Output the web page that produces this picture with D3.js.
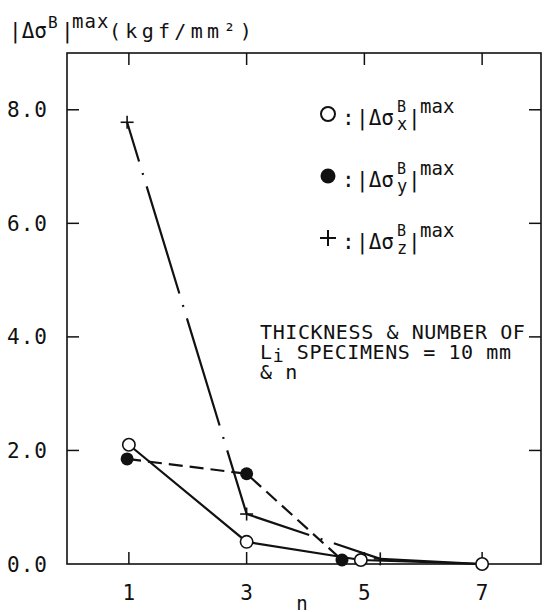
<!DOCTYPE html>
<html>
<head>
<meta charset="utf-8">
<script src="https://cdn.jsdelivr.net/npm/d3@7"></script>
<style>
  html, body { margin: 0; padding: 0; background: #fff; }
  svg { display: block; }
  text { font-family: "DejaVu Sans Mono", "Liberation Mono", monospace; fill: #111; }
</style>
</head>
<body>
<div id="chart"></div>
<script>
// ---- data ----
const xTickValues = [1, 3, 5, 7];
const xTickLabels = ["1", "3", "5", "7"];
const yTickValues = [0, 2, 4, 6, 8];
const yTickLabels = ["0.0", "2.0", "4.0", "6.0", "8.0"];

// open circles : |Δσx|max  (solid line)
const nX = [1, 3, 4.94, 7];
const sigmaX = [2.10, 0.39, 0.07, 0.0];
// filled circles : |Δσy|max (dashed line)
const nY = [0.97, 3, 4.62];
const sigmaY = [1.85, 1.59, 0.07];
// plus : |Δσz|max (dash-dot line)
const nZ = [0.97, 3, 5.27, 7];
const sigmaZ = [7.78, 0.88, 0.09, 0.0];

const legendSubs = ["x", "y", "z"];
const noteLines = ["THICKNESS & NUMBER OF", "L", "& n"];

// ---- layout ----
const W = 544, H = 612;
const frame = { left: 67, top: 53, right: 541, bottom: 564 };

const svg = d3.select("#chart").append("svg").attr("width", W).attr("height", H);

const x = d3.scaleLinear().domain([0, 8]).range([70, 541]);
const y = d3.scaleLinear().domain([0, 9]).range([564, 53]);

const ink = "#111";

// frame
svg.append("rect")
  .attr("x", frame.left).attr("y", frame.top)
  .attr("width", frame.right - frame.left).attr("height", frame.bottom - frame.top)
  .attr("fill", "none").attr("stroke", ink).attr("stroke-width", 1.6);

const tickLen = 12;
xTickValues.forEach(v => {
  svg.append("line").attr("x1", x(v)).attr("x2", x(v))
    .attr("y1", frame.bottom).attr("y2", frame.bottom - tickLen)
    .attr("stroke", ink).attr("stroke-width", 1.5);
  svg.append("line").attr("x1", x(v)).attr("x2", x(v))
    .attr("y1", frame.top).attr("y2", frame.top + tickLen)
    .attr("stroke", ink).attr("stroke-width", 1.5);
});
yTickValues.forEach(v => {
  if (v === 0) return;
  svg.append("line").attr("x1", frame.left).attr("x2", frame.left + tickLen)
    .attr("y1", y(v)).attr("y2", y(v)).attr("stroke", ink).attr("stroke-width", 1.5);
  svg.append("line").attr("x1", frame.right).attr("x2", frame.right - tickLen)
    .attr("y1", y(v)).attr("y2", y(v)).attr("stroke", ink).attr("stroke-width", 1.5);
});

// tick labels
svg.selectAll("text.ylab").data(yTickValues).enter().append("text")
  .attr("class", "ylab")
  .attr("x", 48).attr("y", d => y(d) + 7.5)
  .attr("text-anchor", "end")
  .attr("font-size", 21).attr("letter-spacing", 1)
  .text((d, i) => yTickLabels[i]);

svg.selectAll("text.xlab").data(xTickValues).enter().append("text")
  .attr("class", "xlab")
  .attr("x", d => x(d)).attr("y", 600)
  .attr("text-anchor", "middle")
  .attr("font-size", 21)
  .text((d, i) => xTickLabels[i]);

svg.append("text").attr("x", 302).attr("y", 610).attr("text-anchor", "middle")
  .attr("font-size", 19).text("n");

// y-axis title
const title = svg.append("text").attr("y", 38).attr("font-size", 21);
title.append("tspan").attr("x", 9).text("|Δσ");
title.append("tspan").attr("x", 48).attr("y", 28).attr("font-size", 16).text("B");
title.append("tspan").attr("x", 61).attr("y", 38).text("|");
title.append("tspan").attr("x", 72).attr("y", 28).attr("font-size", 19).attr("letter-spacing", 1).text("max");
title.append("tspan").attr("x", 109).attr("y", 38).attr("font-size", 20).attr("letter-spacing", 4.3).text("(kgf/mm²)");

// ---- series lines ----
const line = d3.line().x(d => x(d[0])).y(d => y(d[1]));
const ptsX = nX.map((n, i) => [n, sigmaX[i]]);
const ptsY = nY.map((n, i) => [n, sigmaY[i]]);
const ptsZ = nZ.map((n, i) => [n, sigmaZ[i]]);

const zSegStyle = [
  { dash: "112,12,2,12", offset: 71 },
  { dash: "112,12,2,12", offset: 46 },
  { dash: null, offset: 0 }
];
d3.pairs(ptsZ).forEach((seg, i) => {
  const p = svg.append("path").attr("d", line(seg))
    .attr("fill", "none").attr("stroke", ink).attr("stroke-width", 2.2);
  if (zSegStyle[i].dash) p.attr("stroke-dasharray", zSegStyle[i].dash).attr("stroke-dashoffset", zSegStyle[i].offset);
});

svg.append("path").attr("d", line(ptsY))
  .attr("fill", "none").attr("stroke", ink).attr("stroke-width", 2.2)
  .attr("stroke-dasharray", "14,7");

svg.append("path").attr("d", line(ptsX))
  .attr("fill", "none").attr("stroke", ink).attr("stroke-width", 2.2);

// ---- markers ----
function plus(g, cx, cy, s, w) {
  g.append("line").attr("x1", cx - s).attr("x2", cx + s).attr("y1", cy).attr("y2", cy)
    .attr("stroke", ink).attr("stroke-width", w);
  g.append("line").attr("x1", cx).attr("x2", cx).attr("y1", cy - s).attr("y2", cy + s)
    .attr("stroke", ink).attr("stroke-width", w);
}
ptsZ.forEach(d => plus(svg, x(d[0]), y(d[1]), 6.5, 1.6));

svg.selectAll("circle.fy").data(ptsY).enter().append("circle")
  .attr("class", "fy").attr("cx", d => x(d[0])).attr("cy", d => y(d[1]))
  .attr("r", 6.5).attr("fill", ink);

svg.selectAll("circle.ox").data(ptsX).enter().append("circle")
  .attr("class", "ox").attr("cx", d => x(d[0])).attr("cy", d => y(d[1]))
  .attr("r", 6.2).attr("fill", "#fff").attr("stroke", ink).attr("stroke-width", 1.6);

// ---- legend ----
const legendRows = [114, 176, 238];
legendRows.forEach((cy, i) => {
  const mx = 328;
  if (i === 0) {
    svg.append("circle").attr("cx", mx).attr("cy", cy).attr("r", 7)
      .attr("fill", "#fff").attr("stroke", ink).attr("stroke-width", 2);
  } else if (i === 1) {
    svg.append("circle").attr("cx", mx).attr("cy", cy).attr("r", 7.5).attr("fill", ink);
  } else {
    plus(svg, mx, cy, 8, 2);
  }
  const base = cy + 11;
  const t = svg.append("text").attr("y", base).attr("font-size", 21);
  t.append("tspan").attr("x", 342).text(":");
  t.append("tspan").attr("x", 356).text("|Δσ");
  t.append("tspan").attr("x", 397).attr("y", base - 13).attr("font-size", 15).text("B");
  t.append("tspan").attr("x", 397).attr("y", base + 5).attr("font-size", 17).text(legendSubs[i]);
  t.append("tspan").attr("x", 408).attr("y", base).text("|");
  t.append("tspan").attr("x", 420).attr("y", base - 12).attr("font-size", 19).text("max");
});

// ---- note ----
svg.append("text").attr("x", 260).attr("y", 339).attr("font-size", 20).attr("letter-spacing", 0.6).text(noteLines[0]);
const l2 = svg.append("text").attr("x", 260).attr("y", 359).attr("font-size", 20).attr("letter-spacing", 0.6);
l2.append("tspan").text(noteLines[1]);
l2.append("tspan").attr("dy", 3).attr("font-size", 18).text("i");
l2.append("tspan").attr("dy", -3).attr("font-size", 20).text(" SPECIMENS = 10 mm");
svg.append("text").attr("x", 260).attr("y", 379).attr("font-size", 20).attr("letter-spacing", 0.6).text(noteLines[2]);
</script>
</body>
</html>
